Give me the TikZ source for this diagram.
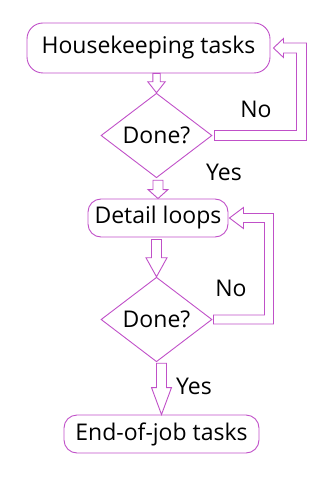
\documentclass[tikz,border=0pt]{standalone}
\usepackage{fontspec}
\setmainfont{Open Sans}
\usetikzlibrary{shapes.geometric,calc}
\definecolor{flow}{RGB}{192,80,200}
\tikzset{
  txt/.style={font=\fontsize{23}{27}\selectfont, text=black},
  term/.style={txt, draw=flow, line width=0.9pt, rounded corners=#1, inner sep=0pt},
  term/.default=13pt,
  dec/.style={txt, draw=flow, line width=0.9pt, diamond, inner sep=0pt, minimum width=111pt, minimum height=77pt},
  blk/.style={draw=flow, line width=0.9pt, fill=white, line join=miter},
  lbl/.style={txt, inner sep=0pt}
}
\newcommand\vblk[6]{% from, to, gap, shaft half, head half, head length
  \draw[blk] ($(#1.south -| #2.north)+(-#4,#3)$) -- ($(#2.north)+(-#4,-#6)$) -- ($(#2.north)+(-#5,-#6)$) -- (#2.north)
    -- ($(#2.north)+(#5,-#6)$) -- ($(#2.north)+(#4,-#6)$) -- ($(#1.south -| #2.north)+(#4,#3)$) -- cycle;}
\begin{document}
\begin{tikzpicture}[x=1pt,y=-1pt]
\useasboundingbox (0,0) rectangle (336,478);
\node[term=16pt, minimum width=243pt, minimum height=50pt] (h) at (148.5,48) {Housekeeping tasks};
\node[dec] (d1) at (156.5,135.5) {Done?};
\node[term=13pt, minimum width=140pt, minimum height=38pt] (dl) at (158,218) {Detail loops};
\node[dec] (d2) at (156.5,319.5) {Done?};
\node[term=13pt, minimum width=195pt, minimum height=38pt] (e) at (161.5,434) {End-of-job tasks};

\node[lbl] (no1) at (256,109) {No};
\node[lbl] (yes1) at (224,172) {Yes};
\node[lbl] (no2) at (231,288) {No};
\node[lbl] (yes2) at (194,386) {Yes};

\vblk{h}{d1}{0}{3.7}{8.7}{11}
\vblk{d1}{dl}{2}{5}{10}{9}
\vblk{dl}{d2}{2}{5}{10.5}{19}
\vblk{d2}{e}{1}{5}{10}{27}

\draw[blk] ($(d1.east)+(2,-5)$) -| ($(h.east)+(26,5)$) -- ($(h.east)+(13,5)$) -- ($(h.east)+(13,9.5)$)
  -- ($(h.east)+(3,0)$) -- ($(h.east)+(13,-9.5)$) -- ($(h.east)+(13,-5)$) -- ($(h.east)+(36,-5)$)
  |- ($(d1.east)+(2,5)$) -- cycle;
\draw[blk] ($(d2.east)+(1,-4.5)$) -| ($(dl.east)+(36,4.5)$) -- ($(dl.east)+(15,4.5)$) -- ($(dl.east)+(15,10.5)$)
  -- ($(dl.east)+(1,0)$) -- ($(dl.east)+(15,-10.5)$) -- ($(dl.east)+(15,-4.5)$) -- ($(dl.east)+(45,-4.5)$)
  |- ($(d2.east)+(1,4.5)$) -- cycle;
\end{tikzpicture}
\end{document}
